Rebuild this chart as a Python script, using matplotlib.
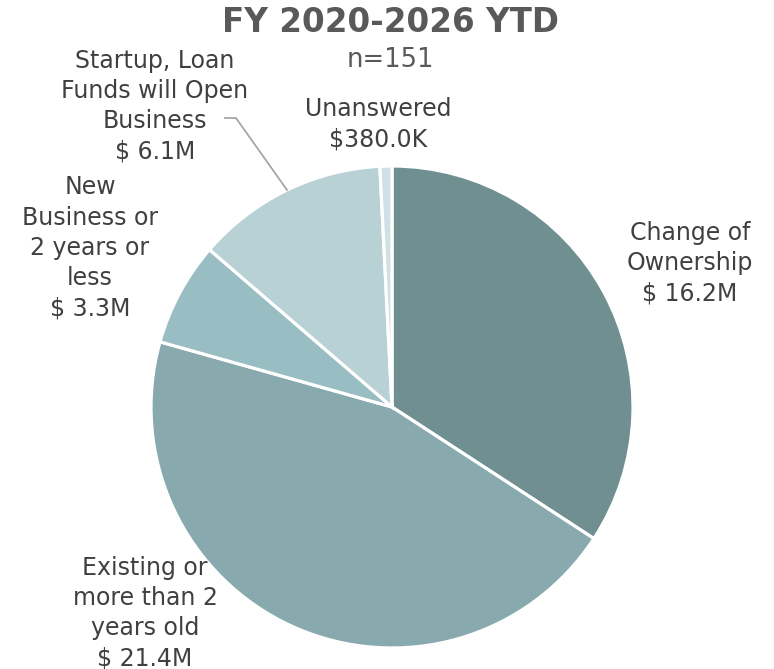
import matplotlib
matplotlib.use("Agg")
import matplotlib.pyplot as plt

categories = ["Change of\nOwnership", "Existing or\nmore than 2\nyears old", "New\nBusiness or\n2 years or\nless",
              "Startup, Loan\nFunds will Open\nBusiness", "Unanswered"]
values_m = [16.2, 21.4, 3.3, 6.1, 0.38]
value_labels = ["$ 16.2M", "$ 21.4M", "$ 3.3M", "$ 6.1M", "$380.0K"]
colors = ["#6f8f91", "#88aaae", "#98bdc3", "#b8d1d5", "#cfe1e4"]

W, H = 774, 669
fig = plt.figure(figsize=(W / 100, H / 100), dpi=100)
ax = fig.add_axes([0, 0, 1, 1])

cx, cy, r = 392, H - 407, 241
ax.pie(values_m, colors=colors, startangle=90, counterclock=False,
       center=(cx, cy), radius=r, frame=True,
       wedgeprops=dict(edgecolor="white", linewidth=2.3))
ax.set_xlim(0, W)
ax.set_ylim(0, H)
ax.set_aspect("equal")
ax.axis("off")

tc = "#404040"
fs = 17
ls = 1.33
# label block centers in pixel coords (x, y from top)
pos = [(690, 263), (145, 613), (90, 248), (155, 106), (378, 124)]
for cat, val, (x, y) in zip(categories, value_labels, pos):
    ax.text(x, H - y, cat + "\n" + val, ha="center", va="center",
            fontsize=fs, color=tc, linespacing=ls)

# leader line for Startup label
ax.plot([225, 236, 287], [H - 118, H - 118, H - 190], color="#a6a6a6", lw=1.3)

ax.text(390, H - 23, "FY 2020-2026 YTD", ha="center", va="center",
        fontsize=23.5, fontweight="bold", color="#595959")
ax.text(390, H - 60, "n=151", ha="center", va="center",
        fontsize=18.5, color="#595959")

fig.savefig("out.png", dpi=100)
